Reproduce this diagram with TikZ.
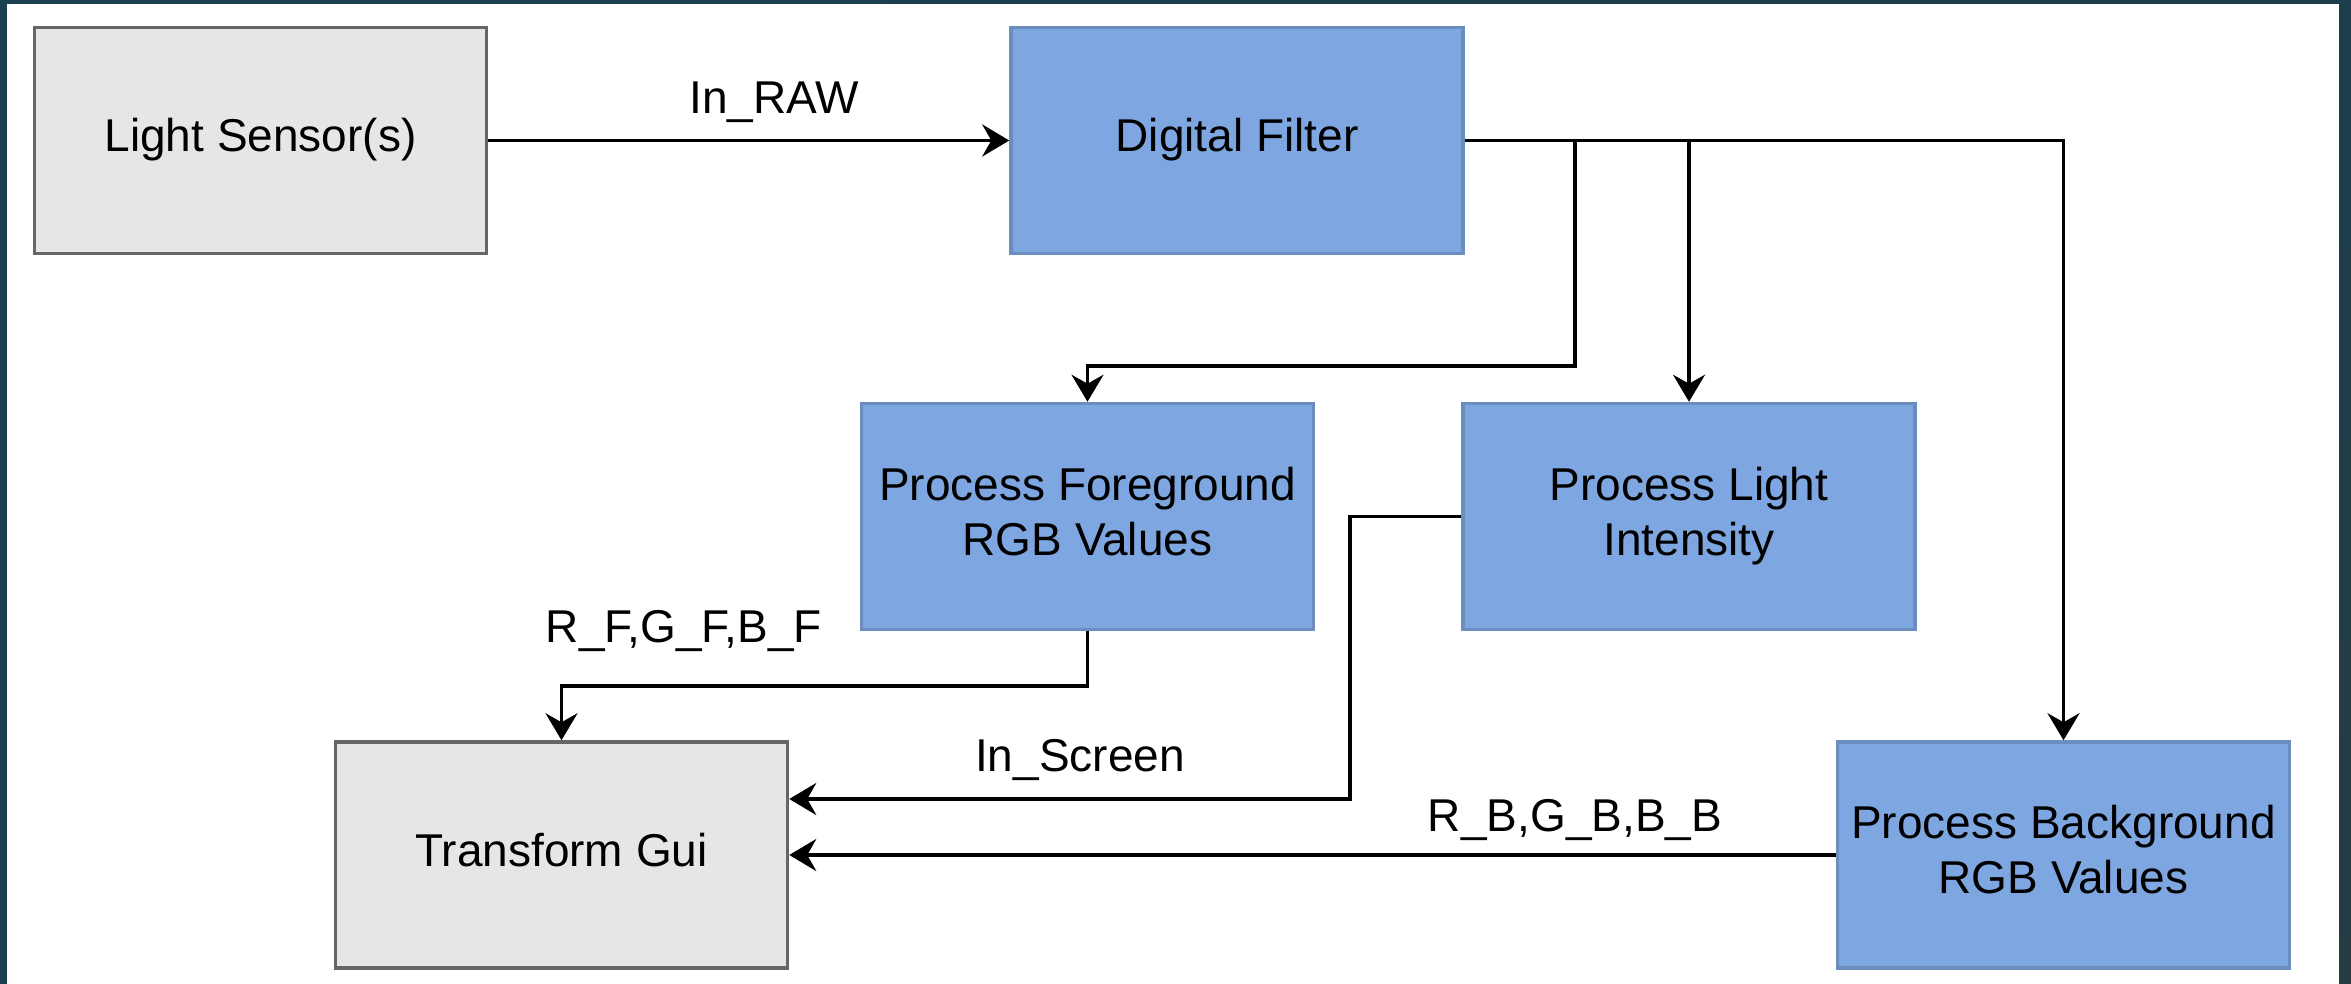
\documentclass[tikz,border=0pt]{standalone}
\usepackage{fontspec}
\setmainfont{Liberation Sans}
\usetikzlibrary{arrows.meta}

\definecolor{boxgray}{HTML}{E6E6E6}
\definecolor{edgegray}{HTML}{666666}
\definecolor{boxblue}{HTML}{7EA6E0}
\definecolor{edgeblue}{HTML}{6C8EBF}
\definecolor{frameA}{HTML}{1B4150}
\definecolor{frameB}{HTML}{33695F}
\definecolor{frameC}{HTML}{1C3D4C}
\definecolor{frameD}{HTML}{263B42}

\begin{document}
\begin{tikzpicture}[x=1pt,y=-1pt,
  txt/.style={font=\fontsize{46}{55}\selectfont},
  box/.style={txt, draw, line width=3.5pt, minimum width=452pt,
    minimum height=226pt, inner sep=0pt, align=center},
  graybox/.style={box, fill=boxgray, draw=edgegray},
  bluebox/.style={box, fill=boxblue, draw=edgeblue},
  link/.style={line width=3.6pt, -{Stealth[length=27pt,width=32pt,inset=9pt]}},
  lbl/.style={txt, anchor=base, inner sep=0pt}]

% canvas and frame
\fill[white] (0,0) rectangle (2351,984);
\path[use as bounding box] (0,0) rectangle (2351,984);
\fill[frameA] (0,0) rectangle (7,984);
\shade[left color=frameA, middle color=frameB, right color=frameC] (0,0) rectangle (2351,4);
\shade[top color=frameC, bottom color=frameD] (2339,0) rectangle (2351,984);

% blocks
\node[graybox] (LS) at (260.5,140.5) {\strut Light Sensor(s)};
\node[bluebox] (DF) at (1237,140.5) {\strut Digital Filter};
\node[bluebox] (FG) at (1087.5,516.5) {\strut Process Foreground\\\strut RGB Values};
\node[bluebox] (LI) at (1689,516.5) {\strut Process Light\\\strut Intensity};
\node[graybox] (TG) at (561.5,855) {\strut Transform Gui};
\node[bluebox] (BG) at (2063.5,855) {\strut Process Background\\\strut RGB Values};

% routing points
\coordinate (b1) at (1575,140.5);
\coordinate (b1t) at (1575,366);
\coordinate (fgturn) at (1087.5,686);
\coordinate (scr) at (1350,799);

% connectors
\draw[link] (LS.east) -- (DF.west);
\draw[link] (DF.east) -| (BG.north);
\draw[link] (b1) -- (b1t) -| (FG.north);
\draw[link] (DF.east -| LI.north) -- (LI.north);
\draw[link] (FG.south) |- (TG.north |- fgturn) -- (TG.north);
\draw[link] (LI.west) -| (scr) -- (scr -| TG.east);
\draw[link] (BG.west) -- (TG.east);

% signal labels
\node[lbl] (lraw) at (774,114) {In\_RAW};
\node[lbl] (lfg) at (684,642) {R\_F,G\_F,B\_F};
\node[lbl] (lscr) at (1080,771) {In\_Screen};
\node[lbl] (lbg) at (1575,831) {R\_B,G\_B,B\_B};
\end{tikzpicture}
\end{document}
